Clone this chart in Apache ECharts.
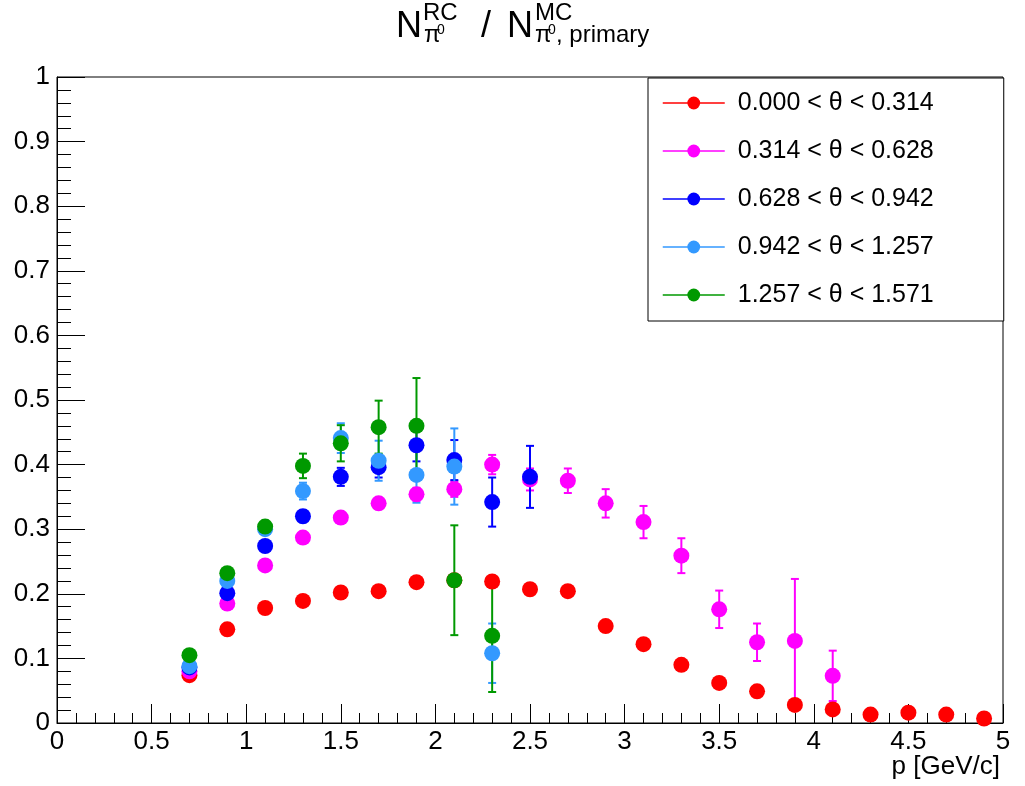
<!DOCTYPE html>
<html><head><meta charset="utf-8">
<script src="https://cdn.jsdelivr.net/npm/echarts@6/dist/echarts.min.js"></script>
<style>html,body{margin:0;padding:0;background:#fff}#c{width:1025px;height:786px}</style>
</head><body><div id="c"></div>
<script>
// momentum bin centres p [GeV/c]
const momentum = [0.7,0.9,1.1,1.3,1.5,1.7,1.9,2.1,2.3,2.5,2.7,2.9,3.1,3.3,3.5,3.7,3.9,4.1,4.3,4.5,4.7,4.9];
const xTicks = [0,0.5,1,1.5,2,2.5,3,3.5,4,4.5,5];
const yTicks = [0,0.1,0.2,0.3,0.4,0.5,0.6,0.7,0.8,0.9,1];
const seriesNames = ["0.000 < \u03b8 < 0.314","0.314 < \u03b8 < 0.628","0.628 < \u03b8 < 0.942","0.942 < \u03b8 < 1.257","1.257 < \u03b8 < 1.571"];
const seriesColors = ["#ff0000","#ff00ff","#0000ff","#3399ff","#009900"];

const theta1Ratio = [0.074,0.145,0.178,0.189,0.202,0.204,0.218,0.221,0.219,0.207,0.204,0.150,0.122,0.090,0.062,0.049,0.028,0.021,0.013,0.016,0.013,0.007];
const theta1Err   = [0.003,0.004,0.004,0.004,0.004,0.004,0.005,0.005,0.005,0.005,0.006,0.005,0.005,0.005,0.004,0.004,0.003,0.003,0.002,0.003,0.003,0.002];
const theta2Ratio = [0.080,0.185,0.244,0.287,0.318,0.340,0.354,0.362,0.400,0.377,0.375,0.340,0.311,0.259,0.176,0.125,0.127,0.073];
const theta2Err   = [0.003,0.004,0.005,0.006,0.007,0.008,0.010,0.012,0.015,0.017,0.019,0.022,0.025,0.027,0.029,0.029,0.096,0.039];
const theta3Ratio = [0.086,0.201,0.274,0.320,0.381,0.396,0.430,0.407,0.342,0.381];
const theta3Err   = [0.003,0.005,0.007,0.009,0.014,0.016,0.025,0.031,0.038,0.048];
const theta4Ratio = [0.088,0.220,0.300,0.359,0.441,0.406,0.384,0.397,0.108];
const theta4Err   = [0.004,0.006,0.008,0.013,0.023,0.031,0.043,0.059,0.046];
const theta5Ratio = [0.105,0.232,0.304,0.398,0.433,0.458,0.460,0.221,0.135];
const theta5Err   = [0.004,0.006,0.009,0.019,0.028,0.041,0.074,0.085,0.087];

const groups = [
  [theta1Ratio, theta1Err],
  [theta2Ratio, theta2Err],
  [theta3Ratio, theta3Err],
  [theta4Ratio, theta4Err],
  [theta5Ratio, theta5Err]
];

const FONT = "Liberation Sans";
const chart = echarts.init(document.getElementById('c'), null, {renderer:'canvas'});

const series = [];
groups.forEach(([vals, errs], i) => {
  const color = seriesColors[i];
  const xs = momentum.slice(0, vals.length);
  series.push({
    type: 'custom',
    name: seriesNames[i] + ' err',
    data: xs.map((x, j) => [x, vals[j] - errs[j], vals[j] + errs[j]]),
    encode: {x: 0, y: [1, 2]},
    silent: true,
    renderItem: (params, api) => {
      const x = api.value(0);
      const lo = api.coord([x, api.value(1)]);
      const hi = api.coord([x, api.value(2)]);
      const cap = 4;
      const style = {stroke: color, lineWidth: 2};
      return {type: 'group', children: [
        {type: 'line', shape: {x1: lo[0], y1: lo[1], x2: hi[0], y2: hi[1]}, style},
        {type: 'line', shape: {x1: lo[0]-cap, y1: lo[1], x2: lo[0]+cap, y2: lo[1]}, style},
        {type: 'line', shape: {x1: hi[0]-cap, y1: hi[1], x2: hi[0]+cap, y2: hi[1]}, style}
      ]};
    }
  });
  series.push({
    type: 'line',
    name: seriesNames[i],
    data: xs.map((x, j) => [x, vals[j]]),
    symbol: 'circle',
    symbolSize: 16,
    showSymbol: true,
    color: color,
    itemStyle: {color: color},
    lineStyle: {color: color, opacity: 0, width: 1.5},
    emphasis: {disabled: true},
    silent: true
  });
});

// title pieces: text, x, baseline, font size
const titleParts = [
  ['N', 396, 40, 36], ['RC', 423, 22, 24], ['\u03c0', 424, 44, 24], ['0', 437, 35, 14],
  ['/', 481, 40, 36],
  ['N', 507, 40, 36], ['MC', 535, 22, 24], ['\u03c0', 535, 44, 24], ['0', 548, 35, 14], [', primary', 556, 44, 24]
];
const graphics = titleParts.map(([text, x, base, size]) => ({
  type: 'text', x: x, y: base - 0.35 * size, silent: true,
  style: {text: text, fontSize: size, fontFamily: FONT, fill: '#000', verticalAlign: 'middle', align: 'left'}
}));

chart.setOption({
  backgroundColor: '#fff',
  animation: false,
  grid: {left: 57, right: 22, top: 77, bottom: 63, show: true, borderColor: '#000', borderWidth: 1,
         backgroundColor: 'transparent', containLabel: false, outerBoundsMode: 'none'},
  xAxis: {
    type: 'value', min: xTicks[0], max: xTicks[xTicks.length-1], interval: xTicks[1]-xTicks[0],
    name: 'p [GeV/c]', nameLocation: 'end', nameGap: -3, nameMoveOverlap: false,
    nameTextStyle: {fontSize: 26, fontFamily: FONT, color: '#000', align: 'right', verticalAlign: 'top', padding: [31, 0, 0, 0]},
    axisLine: {show: true, lineStyle: {color: '#000', width: 1}},
    axisTick: {show: true, inside: true, length: 19, lineStyle: {color: '#000', width: 1}},
    minorTick: {show: true, splitNumber: 5, length: 10, lineStyle: {color: '#000', width: 1}},
    splitLine: {show: false},
    axisLabel: {fontSize: 26, fontFamily: FONT, color: '#000', margin: 6}
  },
  yAxis: {
    type: 'value', min: yTicks[0], max: yTicks[yTicks.length-1], interval: yTicks[1]-yTicks[0],
    axisLine: {show: true, lineStyle: {color: '#000', width: 1}},
    axisTick: {show: true, inside: true, length: 28, lineStyle: {color: '#000', width: 1}},
    minorTick: {show: true, splitNumber: 5, length: 14, lineStyle: {color: '#000', width: 1}},
    splitLine: {show: false},
    axisLabel: {fontSize: 26, fontFamily: FONT, color: '#000', margin: 7}
  },
  legend: {
    data: seriesNames, orient: 'vertical', left: 648, top: 78,
    itemWidth: 62, itemHeight: 16, itemGap: 22,
    padding: [12, 70, 13, 14],
    backgroundColor: '#fff', borderColor: '#000', borderWidth: 1,
    selectedMode: false,
    textStyle: {fontSize: 25, fontFamily: FONT, color: '#000', lineHeight: 26, padding: [0, 0, 0, 8]},
    lineStyle: {width: 1.5, opacity: 1}
  },
  graphic: graphics,
  series: series
});
</script></body></html>
